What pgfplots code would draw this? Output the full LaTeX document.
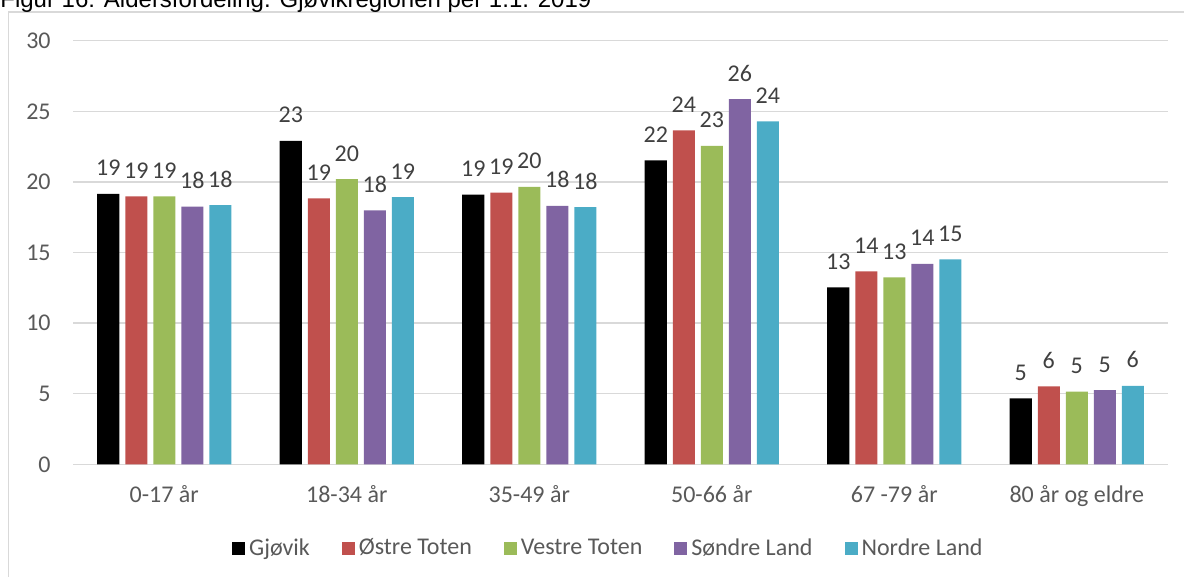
\documentclass[border=0pt]{standalone}
\usepackage{pgfplots}
\pgfplotsset{compat=1.18}
\usepackage{fontspec}
\setmainfont{Carlito}
\newfontfamily\titlefont{Liberation Sans}
\pgfplotsset{/pgf/number format/assume math mode=true}
\definecolor{cGj}{HTML}{000000}
\definecolor{cOT}{HTML}{C0504D}
\definecolor{cVT}{HTML}{9BBB59}
\definecolor{cSL}{HTML}{8064A2}
\definecolor{cNL}{HTML}{4BACC6}
\definecolor{gridGray}{HTML}{D9D9D9}
\definecolor{textGray}{HTML}{595959}
\definecolor{labelGray}{HTML}{404040}
\begin{document}
\begin{tikzpicture}
\useasboundingbox (0,0) rectangle (592pt,-288.5pt);
\draw[color=gridGray, line width=0.75pt] (4.25pt,-400pt) -- (4.25pt,-6.1pt) -- (700pt,-6.1pt);
\node[anchor=base west, inner sep=0pt, font=\titlefont\fontsize{12}{14}\selectfont] at (0pt,-3.6pt) {Figur 16: Aldersfordeling. Gjøvikregionen per 1.1. 2019};
\begin{axis}[
  at={(36.5pt,-232.15pt)}, anchor=south west,
  scale only axis, width=547.5pt, height=211.8pt,
  ybar=3pt, bar width=11pt,
  xmin=-0.5, xmax=5.5, ymin=0, ymax=30,
  enlargelimits=false,
  xtick={0,...,5},
  xticklabels={0-17 år, 18-34 år, 35-49 år, 50-66 år, 67 -79 år, 80 år og eldre},
  ytick={0,5,...,30},
  /pgf/number format/assume math mode=true,
  ymajorgrids, grid style={color=gridGray, line width=0.75pt},
  axis line style={draw=none},
  major tick length=0pt,
  tick style={draw=none},
  y tick label style={font=\fontsize{12}{14}\selectfont, text=textGray, anchor=east, inner sep=0pt, xshift=-11pt},
  x tick label style={font=\fontsize{12}{14}\selectfont, text=textGray, anchor=base, inner sep=0pt, yshift=-19pt},
  nodes near coords={\pgfmathprintnumber[fixed,precision=0,assume math mode=true]{\pgfplotspointmeta}},
  nodes near coords style={font=\fontsize{12}{14}\selectfont, text=labelGray, anchor=base, inner sep=0pt, yshift=9pt},
  legend columns=5,
  legend style={at={(0.488,-0.198)}, anchor=center, draw=none, fill=none, inner sep=0pt,
    font=\fontsize{12}{14}\selectfont, text=textGray,
    /tikz/every odd column/.append style={column sep=2pt},
    /tikz/every even column/.append style={column sep=16pt},
    nodes={inner sep=0pt}},
  legend image code/.code={\fill[#1,draw=none] (0pt,-3.25pt) rectangle (6.5pt,3.25pt);},
]
\addplot[fill=cGj, draw=none] coordinates {(0,19.16) (1,22.9) (2,19.1) (3,21.52) (4,12.53) (5,4.67)};
\addplot[fill=cOT, draw=none] coordinates {(0,18.98) (1,18.84) (2,19.24) (3,23.65) (4,13.67) (5,5.52)};
\addplot[fill=cVT, draw=none] coordinates {(0,18.98) (1,20.2) (2,19.64) (3,22.56) (4,13.24) (5,5.14)};
\addplot[fill=cSL, draw=none] coordinates {(0,18.25) (1,17.99) (2,18.3) (3,25.87) (4,14.19) (5,5.26)};
\addplot[fill=cNL, draw=none] coordinates {(0,18.36) (1,18.93) (2,18.22) (3,24.29) (4,14.52) (5,5.55)};
\legend{Gjøvik, Østre Toten, Vestre Toten, Søndre Land, Nordre Land}
\end{axis}
\end{tikzpicture}
\end{document}
